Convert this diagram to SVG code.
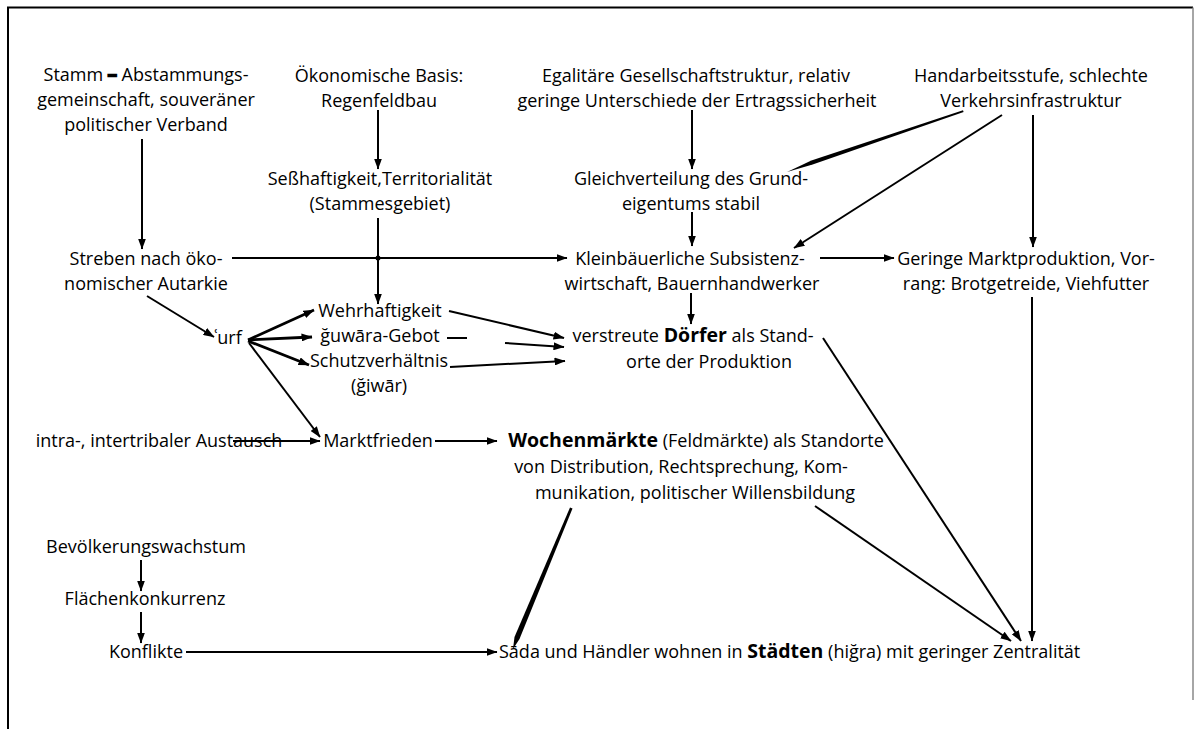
<svg xmlns="http://www.w3.org/2000/svg" width="1196" height="729" viewBox="0 0 1196 729">
<defs>
<marker id="ah" viewBox="0 0 11 8" refX="10.5" refY="4" markerWidth="11" markerHeight="8" markerUnits="userSpaceOnUse" orient="auto">
<path d="M0,0 L11,4 L0,8 Z" fill="#000"/>
</marker>
<style>
text{font-family:"Open Sans","Noto Sans","DejaVu Sans",sans-serif;font-size:18px;fill:#000;text-anchor:middle}
.b{font-weight:bold;font-size:19.5px}
.l{text-anchor:start}
.c line,.c path{stroke:#000;stroke-width:2;fill:none}
.c .a{marker-end:url(#ah)}
.c .t{stroke-width:2.8}
.c path.w{fill:#000;stroke:none}
</style>
</defs>
<rect x="0" y="0" width="1196" height="729" fill="#fff"/>
<g id="frame" fill="none" stroke="#000">
<path d="M8,729 L8,7.5 L1193,7.5" stroke-width="2"/>
<path d="M1193,7.5 L1193,700" stroke="#888" stroke-width="1.5"/>
</g>
<g id="connectors" class="c">
<line class="a" x1="142" y1="139" x2="142" y2="249"/>
<line class="a" x1="378" y1="110" x2="378" y2="169"/>
<line class="a" x1="378" y1="218" x2="378" y2="304"/>
<line class="a" x1="232" y1="258" x2="567" y2="258"/>
<circle cx="378" cy="258" r="2.5" fill="#000"/>
<line class="a" x1="692" y1="110" x2="692" y2="169"/>
<line class="a" x1="692" y1="212" x2="692" y2="246"/>
<path class="w" d="M963,110.2 L963.6,112 L812.6,164.4 L787,172 L811.4,160.6 Z"/>
<line class="a" x1="1002" y1="115" x2="794" y2="248"/>
<line class="a" x1="1033" y1="115" x2="1033" y2="247"/>
<line class="a" x1="820" y1="258" x2="894" y2="258"/>
<line class="a" x1="691" y1="293" x2="691" y2="324"/>
<line class="a" x1="147" y1="296" x2="214" y2="337"/>
<line class="a t" x1="248" y1="340" x2="314" y2="310"/>
<line class="a t" x1="248" y1="340" x2="312" y2="337"/>
<line class="a t" x1="248" y1="341" x2="309" y2="365"/>
<line class="a" x1="249" y1="343" x2="320" y2="437"/>
<line class="a" x1="449" y1="311" x2="564" y2="338"/>
<line x1="447" y1="338" x2="467" y2="338"/>
<line class="a" x1="505" y1="343" x2="564" y2="347"/>
<line class="a" x1="450" y1="367" x2="565" y2="361"/>
<line class="a" x1="233" y1="441" x2="320" y2="441"/>
<line class="a" x1="435" y1="441" x2="497" y2="441"/>
<line class="a" x1="823" y1="338" x2="1021" y2="641"/>
<line class="a" x1="815" y1="506" x2="1011" y2="641"/>
<line class="a" x1="1032" y1="297" x2="1032" y2="641"/>
<path class="w" d="M570,507.5 L572.5,508.5 L519.5,639 L513,649 L514.5,637 Z"/>
<line class="a" x1="186" y1="652" x2="497" y2="652"/>
<line class="a" x1="141" y1="560" x2="141" y2="591"/>
<line class="a" x1="141" y1="612" x2="141" y2="643"/>
</g>
<g id="n-stamm">
<text x="146" y="81">Stamm <tspan stroke="#000" stroke-width="2.2">–</tspan> Abstammungs-</text>
<text x="146" y="106">gemeinschaft, souveräner</text>
<text x="146" y="131">politischer Verband</text>
</g>
<g id="n-oekonomisch">
<text x="379" y="82">Ökonomische Basis:</text>
<text x="379" y="107">Regenfeldbau</text>
</g>
<g id="n-egalitaer">
<text x="696" y="82">Egalitäre Gesellschaftstruktur, relativ</text>
<text x="697" y="107">geringe Unterschiede der Ertragssicherheit</text>
</g>
<g id="n-handarbeit">
<text x="1031" y="82">Handarbeitsstufe, schlechte</text>
<text x="1031" y="107">Verkehrsinfrastruktur</text>
</g>
<g id="n-sesshaft">
<text x="380" y="185">Seßhaftigkeit,Territorialität</text>
<text x="380" y="210">(Stammesgebiet)</text>
</g>
<g id="n-gleich">
<text x="691" y="185">Gleichverteilung des Grund-</text>
<text x="691" y="210">eigentums stabil</text>
</g>
<g id="n-streben">
<text x="146" y="265">Streben nach öko-</text>
<text x="146" y="290">nomischer Autarkie</text>
</g>
<g id="n-klein">
<text x="690" y="265">Kleinbäuerliche Subsistenz-</text>
<text x="692" y="290">wirtschaft, Bauernhandwerker</text>
</g>
<g id="n-geringe">
<text x="1026" y="265">Geringe Marktproduktion, Vor-</text>
<text x="1026" y="290">rang: Brotgetreide, Viehfutter</text>
</g>
<g id="n-urf">
<text x="228" y="344">ʿurf</text>
</g>
<g id="n-wehr">
<text x="380" y="317">Wehrhaftigkeit</text>
</g>
<g id="n-guwara">
<text x="380" y="342">ğuwāra-Gebot</text>
</g>
<g id="n-schutz">
<text x="379" y="367">Schutzverhältnis</text>
<text x="379" y="392">(ğiwār)</text>
</g>
<g id="n-doerfer">
<text x="693" y="342">verstreute <tspan class="b">Dörfer</tspan> als Stand-</text>
<text x="709" y="368">orte der Produktion</text>
</g>
<g id="n-austausch">
<text x="159" y="447">intra-, intertribaler Austausch</text>
</g>
<g id="n-marktfrieden">
<text x="378" y="447">Marktfrieden</text>
</g>
<g id="n-wochen">
<text x="696" y="447"><tspan class="b">Wochenmärkte</tspan> (Feldmärkte) als Standorte</text>
<text x="681" y="473">von Distribution, Rechtsprechung, Kom-</text>
<text x="695" y="499">munikation, politischer Willensbildung</text>
</g>
<g id="n-bevoelkerung">
<text x="146" y="553">Bevölkerungswachstum</text>
</g>
<g id="n-flaeche">
<text x="145" y="605">Flächenkonkurrenz</text>
</g>
<g id="n-konflikte">
<text x="146" y="658">Konflikte</text>
</g>
<g id="n-staedte">
<text class="l" x="499" y="658">Sāda und Händler wohnen in <tspan class="b">Städten</tspan> (hiğra) mit geringer Zentralität</text>
</g>
</svg>
